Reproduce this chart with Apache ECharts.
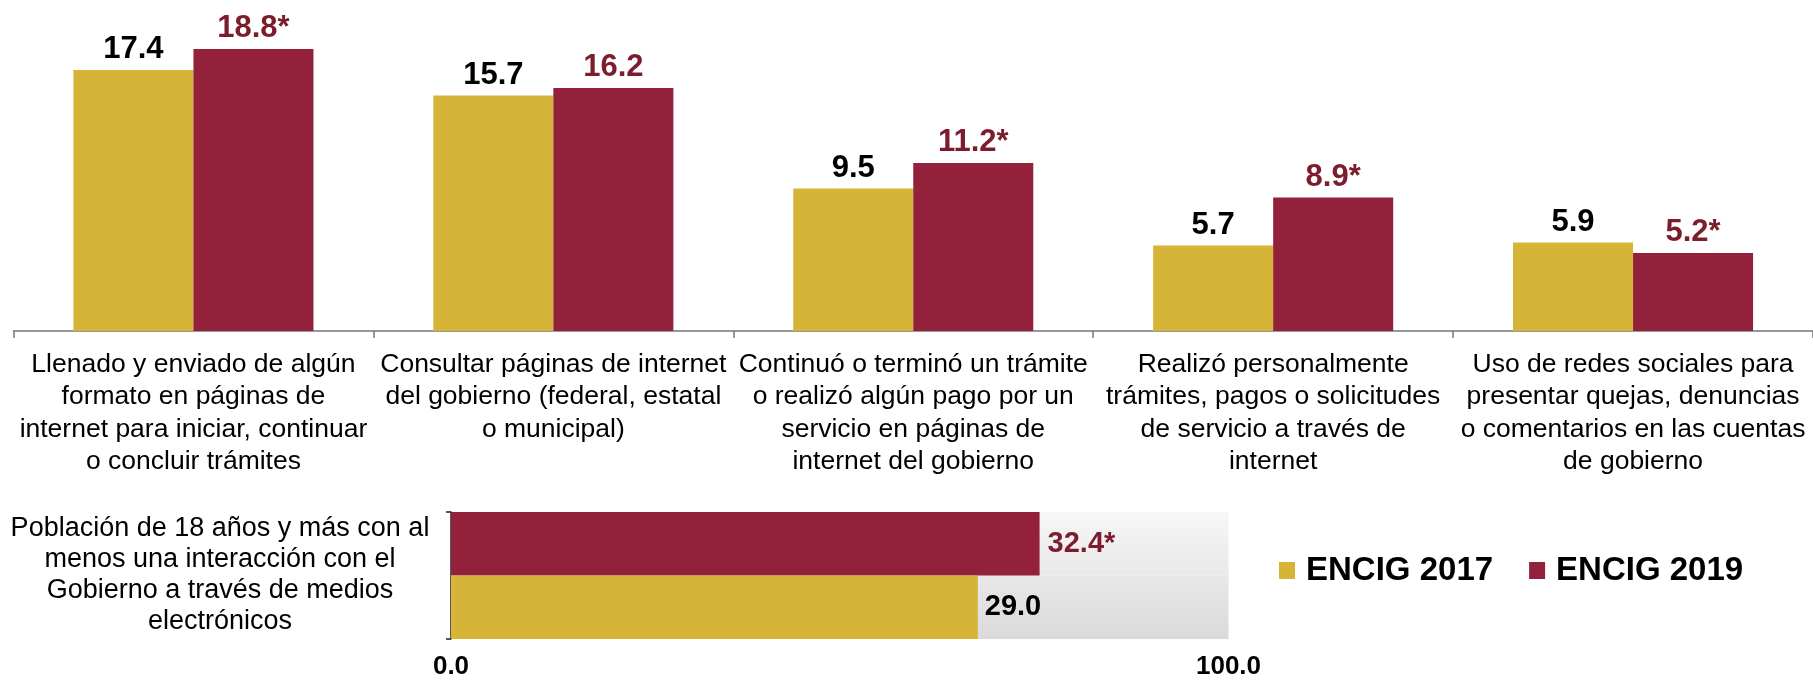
<!DOCTYPE html>
<html>
<head>
<meta charset="utf-8">
<script src="https://cdn.jsdelivr.net/npm/echarts@6/dist/echarts.min.js"></script>
<style>
  html, body { margin: 0; padding: 0; background: #fff; }
  #chart { width: 1813px; height: 680px; }
</style>
</head>
<body>
<div id="chart"></div>
<script>
// datos
var categories = [
  'Llenado y enviado de algún\nformato en páginas de\ninternet para iniciar, continuar\no concluir trámites',
  'Consultar páginas de internet\ndel gobierno (federal, estatal\no municipal)',
  'Continuó o terminó un trámite\no realizó algún pago por un\nservicio en páginas de\ninternet del gobierno',
  'Realizó personalmente\ntrámites, pagos o solicitudes\nde servicio a través de\ninternet',
  'Uso de redes sociales para\npresentar quejas, denuncias\no comentarios en las cuentas\nde gobierno'
];
var encig2017 = [17.4, 15.7, 9.5, 5.7, 5.9];
var encig2019 = [18.8, 16.2, 11.2, 8.9, 5.2];
var marca2019 = [true, false, true, true, true];

var totalCategory = ['Población de 18 años y más con al\nmenos una interacción con el\nGobierno a través de medios\nelectrónicos'];
var total2017 = [29.0];
var total2019 = [32.4];
var marcaTotal2019 = [true];
var totalTickLabels = ['0.0', '100.0'];

var seriesNames = ['ENCIG 2017', 'ENCIG 2019'];

var FONT = 'Liberation Sans, Arial, sans-serif';
var YELLOW = '#d5b437';
var RED = '#93213b';
var RED_TEXT = '#7c1d2e';
var BOTTOM_MAX = 42.8; // la barra de fondo del original no está a escala

var chartDom = document.getElementById('chart');
var myChart = echarts.init(chartDom);

// un solo degradado para todo el fondo gris
var bgGrad = new echarts.graphic.LinearGradient(0, 512, 0, 642, [
  { offset: 0, color: '#f7f7f7' },
  { offset: 1, color: '#d9d9d9' }
], true);

var option = {
  animation: false,
  textStyle: { fontFamily: FONT },
  legend: {
    data: seriesNames,
    left: 1274,
    top: 549,
    icon: 'rect',
    itemWidth: 16,
    itemHeight: 17,
    itemGap: 36,
    textStyle: { fontFamily: FONT, fontSize: 33, fontWeight: 'bold', color: '#000', padding: [0, 0, 0, 6] }
  },
  grid: [
    { left: 13.5, right: 0, top: 31, height: 300 },
    { left: 451, right: 584.5, top: 512, height: 130 }
  ],
  xAxis: [
    {
      type: 'category',
      gridIndex: 0,
      data: categories,
      axisLine: { lineStyle: { color: '#777', width: 1.5 } },
      axisTick: { show: true, length: 7, lineStyle: { color: '#777', width: 1.5 } },
      axisLabel: {
        interval: 0,
        margin: 17,
        fontSize: 26.5,
        lineHeight: 32.5,
        color: '#000',
        fontFamily: FONT
      }
    },
    {
      type: 'value',
      gridIndex: 1,
      min: 0,
      max: BOTTOM_MAX,
      interval: BOTTOM_MAX,
      axisLine: { show: false },
      axisTick: { show: false },
      splitLine: { show: false },
      axisLabel: {
        margin: 15,
        fontSize: 26,
        fontWeight: 'bold',
        color: '#000',
        fontFamily: FONT,
        formatter: function (v) { return v === 0 ? totalTickLabels[0] : totalTickLabels[1]; }
      }
    }
  ],
  yAxis: [
    {
      type: 'value',
      gridIndex: 0,
      min: 0,
      max: 20,
      show: false,
      splitLine: { show: false }
    },
    {
      type: 'category',
      gridIndex: 1,
      data: totalCategory,
      axisLine: { lineStyle: { color: '#222', width: 1.5 } },
      axisTick: { show: true, length: 5, lineStyle: { color: '#222', width: 1.5 } },
      axisLabel: {
        align: 'center',
        margin: 231,
        fontSize: 27,
        lineHeight: 31,
        padding: [8, 0, 0, 0],
        color: '#000',
        fontFamily: FONT
      }
    }
  ],
  series: [
    {
      name: seriesNames[0],
      type: 'bar',
      xAxisIndex: 0,
      yAxisIndex: 0,
      data: encig2017,
      barGap: 0,
      barCategoryGap: '33.3%',
      itemStyle: { color: YELLOW },
      label: {
        show: true,
        position: 'top',
        distance: 5,
        fontSize: 31,
        fontWeight: 'bold',
        color: '#000',
        fontFamily: FONT,
        formatter: function (p) { return p.value.toFixed(1); }
      }
    },
    {
      name: seriesNames[1],
      type: 'bar',
      xAxisIndex: 0,
      yAxisIndex: 0,
      data: encig2019,
      barGap: 0,
      barCategoryGap: '33.3%',
      itemStyle: { color: RED },
      label: {
        show: true,
        position: 'top',
        distance: 5,
        fontSize: 31,
        fontWeight: 'bold',
        color: RED_TEXT,
        fontFamily: FONT,
        formatter: function (p) { return p.value.toFixed(1) + (marca2019[p.dataIndex] ? '*' : ''); }
      }
    },
    // barras horizontales: la primera serie queda arriba
    {
      name: seriesNames[1],
      type: 'bar',
      xAxisIndex: 1,
      yAxisIndex: 1,
      data: total2019,
      barGap: 0,
      barCategoryGap: '0%',
      showBackground: true,
      backgroundStyle: { color: bgGrad },
      itemStyle: { color: RED },
      label: {
        show: true,
        position: 'right',
        distance: 8,
        fontSize: 29,
        fontWeight: 'bold',
        color: RED_TEXT,
        fontFamily: FONT,
        formatter: function (p) { return p.value.toFixed(1) + (marcaTotal2019[p.dataIndex] ? '*' : ''); }
      }
    },
    {
      name: seriesNames[0],
      type: 'bar',
      xAxisIndex: 1,
      yAxisIndex: 1,
      data: total2017,
      barGap: 0,
      barCategoryGap: '0%',
      showBackground: true,
      backgroundStyle: { color: bgGrad },
      itemStyle: { color: YELLOW },
      label: {
        show: true,
        position: 'right',
        distance: 7,
        fontSize: 29,
        fontWeight: 'bold',
        color: '#000',
        fontFamily: FONT,
        formatter: function (p) { return p.value.toFixed(1); }
      }
    }
  ]
};

option && myChart.setOption(option);
</script>
</body>
</html>
